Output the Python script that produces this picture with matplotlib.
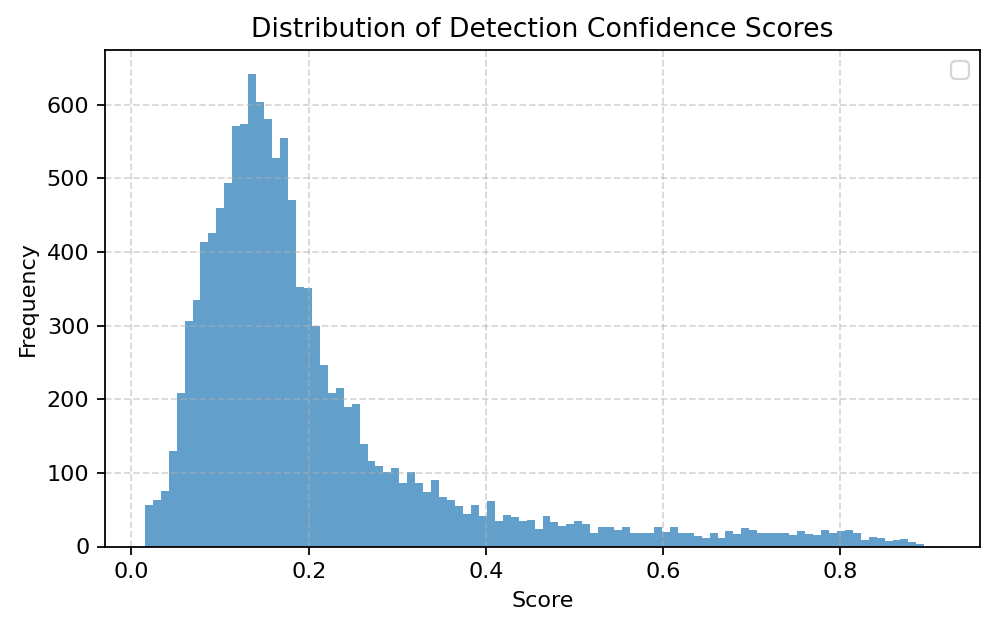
import numpy as np
import matplotlib
matplotlib.use("Agg")
import matplotlib.pyplot as plt
import warnings

# Histogram range (score axis) and per-bin counts
score_min = 0.0150
score_max = 0.9127
n_bins = 100
counts = [
    57, 63, 76, 129, 209, 306, 335, 413, 426, 459,
    494, 571, 574, 642, 604, 581, 527, 555, 470, 352,
    351, 300, 247, 209, 215, 190, 194, 139, 116, 109,
    101, 107, 86, 101, 86, 74, 90, 67, 63, 55,
    44, 57, 42, 62, 35, 43, 40, 35, 36, 24,
    42, 33, 28, 30, 34, 31, 18, 27, 26, 22,
    26, 19, 18, 18, 26, 20, 27, 18, 19, 14,
    11, 19, 11, 21, 17, 25, 22, 18, 19, 19,
    18, 15, 21, 17, 15, 23, 19, 21, 22, 19,
    9, 13, 11, 8, 9, 10, 6, 3, 0, 1,
]

title = "Distribution of Detection Confidence Scores"
xlabel = "Score"
ylabel = "Frequency"

edges = np.linspace(score_min, score_max, n_bins + 1)
centers = (edges[:-1] + edges[1:]) / 2

DPI = 160
fig = plt.figure(figsize=(996 / DPI, 631 / DPI), dpi=DPI)
ax = fig.add_axes([105 / 996, 1 - 546.5 / 631, (980 - 105) / 996, (546.5 - 50) / 631])

ax.hist(centers, bins=edges, weights=counts, color="#1f77b4", alpha=0.7)
ax.set_title(title, fontsize=12)
ax.set_xlabel(xlabel)
ax.set_ylabel(ylabel)
ax.grid(True, linestyle="--", alpha=0.5)
with warnings.catch_warnings():
    warnings.simplefilter("ignore")
    ax.legend(handles=[], loc="upper right")

fig.savefig("out.png", dpi=DPI)
